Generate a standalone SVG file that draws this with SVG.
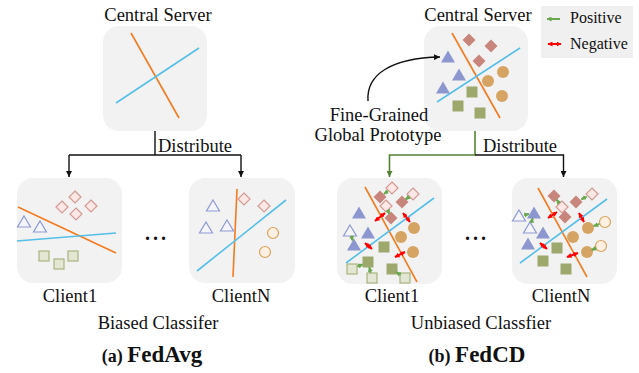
<svg xmlns="http://www.w3.org/2000/svg" width="639" height="373" viewBox="0 0 639 373" font-family="'Liberation Serif', 'DejaVu Serif', serif">
<style>
text{font-family:'Liberation Serif','DejaVu Serif',serif;fill:#111;}
.t{font-size:18.5px;}
.lg{font-size:16px;}
.mid{text-anchor:middle;}
.box{fill:#f2f2f2;}
.or{stroke:#f47b20;stroke-width:1.6;fill:none;}
.bl{stroke:#56bfe9;stroke-width:1.6;fill:none;}
.con{stroke:#111;stroke-width:1.4;fill:none;}
.gcon{stroke:#548235;stroke-width:1.6;fill:none;}
.ga{stroke:#6aa84f;stroke-width:2;fill:none;marker-end:url(#gh);}
.ra{stroke:#ff0000;stroke-width:2;fill:none;marker-start:url(#rh);marker-end:url(#rh);}
.dots{font-size:20px;font-weight:bold;letter-spacing:3px;}
</style>
<defs>
<marker id="ah" viewBox="0 0 10 10" refX="10" refY="5" markerWidth="6" markerHeight="6" markerUnits="userSpaceOnUse" orient="auto"><path d="M0,0 L10,5 L0,10Z" fill="#111"/></marker>
<marker id="gah" viewBox="0 0 10 10" refX="10" refY="5" markerWidth="6" markerHeight="6" markerUnits="userSpaceOnUse" orient="auto"><path d="M0,0 L10,5 L0,10Z" fill="#548235"/></marker>
<marker id="gh" viewBox="0 0 10 10" refX="9" refY="5" markerWidth="5" markerHeight="5" markerUnits="userSpaceOnUse" orient="auto"><path d="M0,0 L10,5 L0,10Z" fill="#6aa84f"/></marker>
<marker id="rh" viewBox="0 0 10 10" refX="9" refY="5" markerWidth="5" markerHeight="5" markerUnits="userSpaceOnUse" orient="auto-start-reverse"><path d="M0,0 L10,5 L0,10Z" fill="#ff0000"/></marker>
<path id="dF" d="M0,-6.5 L6.5,0 L0,6.5 L-6.5,0Z" fill="#c8857b"/>
<path id="dH" d="M0,-6 L6,0 L0,6 L-6,0Z" fill="#fde8e6" stroke="#d39a93" stroke-width="1.2"/>
<path id="tF" d="M0,-6.5 L7,5.5 L-7,5.5Z" fill="#8c97cf"/>
<path id="tH" d="M0,-6 L6.5,5 L-6.5,5Z" fill="#f4f5fb" stroke="#8f9ad3" stroke-width="1.2"/>
<circle id="cF" r="6" fill="#d6a462"/>
<circle id="cH" r="5.5" fill="#fdf0e2" stroke="#d9a35d" stroke-width="1.2"/>
<rect id="sF" x="-5.5" y="-5.5" width="11" height="11" fill="#9da86c"/>
<rect id="sH" x="-5" y="-5" width="10" height="10" fill="#e2e6d3" stroke="#a9b57f" stroke-width="1.2"/>
</defs>

<rect width="639" height="373" fill="#ffffff"/>

<!-- (a) FedAvg -->
<g id="fedavg-server">
<text class="t mid" x="158" y="21">Central Server</text>
<rect class="box" x="103" y="26" width="104" height="105" rx="16"/>
<line class="or" x1="131" y1="33" x2="179" y2="118"/>
<line class="bl" x1="116" y1="103" x2="199" y2="48"/>
</g>
<text class="t" x="158" y="152">Distribute</text>

<g id="fedavg-client1">
<rect class="box" x="17" y="178" width="105" height="105" rx="16"/>
<use href="#dH" x="75" y="197"/>
<use href="#dH" x="62" y="207"/>
<use href="#dH" x="91" y="206"/>
<use href="#dH" x="76" y="214"/>
<use href="#tH" x="24" y="222"/>
<use href="#tH" x="40" y="227"/>
<line class="or" x1="18" y1="207" x2="116" y2="253"/>
<line class="bl" x1="17" y1="241" x2="116" y2="233"/>
<use href="#sH" x="44" y="256"/>
<use href="#sH" x="59" y="264"/>
<use href="#sH" x="73" y="256"/>
<text class="t mid" x="70" y="302">Client1</text>
</g>

<text class="dots mid" x="157" y="240">...</text>

<g id="fedavg-clientN">
<rect class="box" x="189" y="178" width="106" height="105" rx="16"/>
<use href="#dH" x="244" y="199"/>
<use href="#dH" x="264" y="206"/>
<use href="#tH" x="213" y="206"/>
<use href="#tH" x="206" y="228"/>
<use href="#tH" x="227" y="226"/>
<use href="#cH" x="273" y="233"/>
<use href="#cH" x="265" y="252"/>
<line class="or" x1="237" y1="189" x2="233" y2="277"/>
<line class="bl" x1="197" y1="271" x2="286" y2="200"/>
<text class="t mid" x="241" y="302">ClientN</text>
</g>

<text class="t mid" x="158" y="329">Biased Classifer</text>
<text class="mid" x="152" y="362" font-weight="bold"><tspan style="font-size:18px">(a) </tspan><tspan style="font-size:23px">FedAvg</tspan></text>

<!-- (b) FedCD -->
<g id="fedcd-server">
<text class="t mid" x="478" y="21">Central Server</text>
<rect class="box" x="424" y="26" width="104" height="105" rx="16"/>
<line class="or" x1="452" y1="33" x2="500" y2="118"/>
<line class="bl" x1="437" y1="102" x2="520" y2="48"/>
<use href="#dF" x="469" y="40"/>
<use href="#dF" x="491" y="46"/>
<use href="#dF" x="479" y="61"/>
<use href="#tF" x="448" y="57"/>
<use href="#tF" x="459" y="75"/>
<use href="#tF" x="443" y="88"/>
<use href="#cF" x="503" y="72"/>
<use href="#cF" x="488" y="81"/>
<use href="#cF" x="502" y="96"/>
<use href="#sF" x="472" y="92"/>
<use href="#sF" x="458" y="106"/>
<use href="#sF" x="480" y="113"/>
</g>

<g id="legend">
<rect x="541" y="6" width="92" height="52" fill="#f0f0f0"/>
<line x1="560" y1="19" x2="547" y2="19" stroke="#6aa84f" stroke-width="2" marker-end="url(#gh)"/>
<text class="lg" x="570" y="23">Positive</text>
<line class="ra" x1="548" y1="44" x2="561" y2="44"/>
<text class="lg" x="570" y="49">Negative</text>
</g>

<g id="label-prototype">
<text class="t mid" x="379" y="121">Fine-Grained</text>
<text class="t mid" x="378" y="141">Global Prototype</text>
</g>
<text class="t" x="483" y="152">Distribute</text>

<g id="fedcd-client1">
<rect class="box" x="337" y="178" width="105" height="106" rx="16"/>
<line class="or" x1="365" y1="187" x2="417" y2="282"/>
<line class="bl" x1="346" y1="263" x2="434" y2="198"/>
<use href="#dF" x="380" y="197"/>
<use href="#dF" x="402" y="202"/>
<use href="#dF" x="391" y="218"/>
<use href="#dH" x="392" y="188"/>
<use href="#dH" x="413" y="194"/>
<use href="#dH" x="386" y="206"/>
<use href="#tF" x="359" y="213"/>
<use href="#tF" x="368" y="233"/>
<use href="#tF" x="354" y="245"/>
<use href="#tH" x="350" y="231"/>
<use href="#cF" x="414" y="228"/>
<use href="#cF" x="401" y="237"/>
<use href="#cF" x="413" y="252"/>
<use href="#sF" x="384" y="247"/>
<use href="#sF" x="368" y="262"/>
<use href="#sF" x="392" y="269"/>
<use href="#sH" x="352" y="269"/>
<use href="#sH" x="372" y="278"/>
<use href="#sH" x="405" y="278"/>
<line class="ga" x1="388" y1="191" x2="384" y2="194"/>
<line class="ga" x1="409.4" y1="196.6" x2="405.6" y2="199.4"/>
<line class="ga" x1="387.7" y1="210" x2="389.3" y2="214"/>
<line class="ga" x1="351.3" y1="235.6" x2="352.7" y2="240.4"/>
<line class="ga" x1="357.3" y1="266.7" x2="362.7" y2="264.3"/>
<line class="ga" x1="370.7" y1="272.7" x2="369.3" y2="267.3"/>
<line class="ga" x1="400.7" y1="275" x2="396.3" y2="272"/>
<line class="ra" x1="375" y1="221" x2="385" y2="213"/>
<line class="ra" x1="403" y1="213" x2="410" y2="222"/>
<line class="ra" x1="365" y1="243" x2="372" y2="249"/>
<line class="ra" x1="395" y1="257" x2="405" y2="252"/>
<text class="t mid" x="392" y="302">Client1</text>
</g>

<text class="dots mid" x="477" y="240">...</text>

<g id="fedcd-clientN">
<rect class="box" x="512" y="178" width="105" height="106" rx="16"/>
<line class="or" x1="538" y1="188" x2="587" y2="277"/>
<line class="bl" x1="520" y1="263" x2="607" y2="199"/>
<use href="#dF" x="554" y="196"/>
<use href="#dF" x="576" y="202"/>
<use href="#dF" x="565" y="217"/>
<use href="#dH" x="592" y="194"/>
<use href="#dH" x="562" y="207"/>
<use href="#tF" x="534" y="213"/>
<use href="#tF" x="543" y="233"/>
<use href="#tF" x="528" y="244"/>
<use href="#tH" x="519" y="216"/>
<use href="#tH" x="530" y="228"/>
<use href="#cF" x="588" y="228"/>
<use href="#cF" x="573" y="237"/>
<use href="#cF" x="587" y="252"/>
<use href="#cH" x="605" y="222"/>
<use href="#cH" x="601" y="246"/>
<use href="#sF" x="557" y="248"/>
<use href="#sF" x="543" y="261"/>
<use href="#sF" x="566" y="269"/>
<line class="ga" x1="524" y1="215" x2="529" y2="214"/>
<line class="ga" x1="531.3" y1="223" x2="532.7" y2="218"/>
<line class="ga" x1="586.7" y1="196.7" x2="581.3" y2="199.3"/>
<line class="ga" x1="559.3" y1="203.3" x2="556.7" y2="199.7"/>
<line class="ga" x1="599.4" y1="224" x2="593.6" y2="226"/>
<line class="ga" x1="596.4" y1="248" x2="591.6" y2="250"/>
<line class="ra" x1="548" y1="218" x2="557" y2="212"/>
<line class="ra" x1="579" y1="213" x2="584" y2="222"/>
<line class="ra" x1="540" y1="243" x2="547" y2="249"/>
<line class="ra" x1="567" y1="257" x2="578" y2="253"/>
<text class="t mid" x="561" y="302">ClientN</text>
</g>

<text class="t mid" x="481" y="329">Unbiased Classfier</text>
<text class="mid" x="477" y="362" font-weight="bold"><tspan style="font-size:18px">(b) </tspan><tspan style="font-size:23px">FedCD</tspan></text>

<!-- Connectors -->
<g id="connectors">
<path class="con" d="M155,131 V155"/>
<path class="con" d="M69,155 H241"/>
<path class="con" d="M69,155 V177" marker-end="url(#ah)"/>
<path class="con" d="M241,155 V177" marker-end="url(#ah)"/>
<path class="gcon" d="M475,131 V155 H389.5 V177" marker-end="url(#gah)"/>
<path class="con" d="M475,155 H563.5 V177" marker-end="url(#ah)"/>
<path class="con" d="M368,101 C366,74 392,58 440,57" marker-end="url(#ah)"/>
</g>
</svg>
